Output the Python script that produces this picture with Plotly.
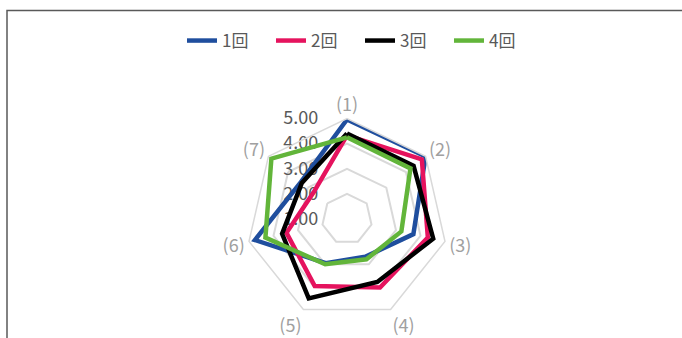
import plotly.graph_objects as go

categories = ["(1)", "(2)", "(3)", "(4)", "(5)", "(6)", "(7)"]
series_names = ["1回", "2回", "3回", "4回"]
s1 = [4.96, 5.00, 3.71, 2.67, 2.95, 4.76, 3.35]
s2 = [4.33, 4.81, 4.30, 4.03, 3.96, 3.47, 2.70]
s3 = [4.40, 4.39, 4.52, 3.78, 4.51, 3.65, 3.30]
s4 = [4.25, 4.23, 3.22, 2.78, 3.00, 4.33, 4.85]
colors = ["#1F4E9E", "#E5135E", "#000000", "#62B53A"]
tick_vals = [1, 2, 3, 4, 5]
tick_text = ["1.00", "2.00", "3.00", "4.00", "5.00"]

W, H = 682, 338
cx, cy, R = 347, 219, 100.5

fig = go.Figure()
for name, vals, col in zip(series_names, [s1, s2, s3, s4], colors):
    fig.add_trace(go.Scatterpolar(
        r=vals + vals[:1], theta=categories + categories[:1],
        mode="lines", name=name,
        line=dict(color=col, width=4.5),
    ))

fig.update_layout(
    width=W, height=H,
    margin=dict(l=0, r=0, t=0, b=0),
    paper_bgcolor="white",
    font=dict(family="Noto Sans CJK JP", color="#595959"),
    showlegend=True,
    legend=dict(orientation="h", x=360 / W, xanchor="center", y=1 - 41 / H, yanchor="middle",
                font=dict(size=17, color="#595959"),
                entrywidth=44, entrywidthmode="pixels",
                bgcolor="rgba(0,0,0,0)"),
    polar=dict(
        domain=dict(x=[(cx - R) / W, (cx + R) / W], y=[1 - (cy + R) / H, 1 - (cy - R) / H]),
        gridshape="linear",
        bgcolor="white",
        angularaxis=dict(rotation=90, direction="clockwise", showgrid=False,
                         showline=True, linecolor="#D9D9D9", linewidth=1.5,
                         ticks="", tickfont=dict(size=18, color="#A0A0A0")),
        radialaxis=dict(range=[1, 5], tickvals=tick_vals, ticktext=tick_text,
                        angle=90, tickangle=90, showline=False,
                        ticks="outside", ticklen=22, tickcolor="rgba(0,0,0,0)",
                        gridcolor="#D9D9D9", gridwidth=1.5, layer="below traces",
                        side="counterclockwise",
                        tickfont=dict(size=18, color="#595959")),
    ),
    shapes=[dict(type="rect", xref="paper", yref="paper",
                 x0=7 / W, x1=1.02, y0=-0.02, y1=1 - 10.5 / H,
                 line=dict(color="#595959", width=1.5))],
)

fig.write_html("out.html")
